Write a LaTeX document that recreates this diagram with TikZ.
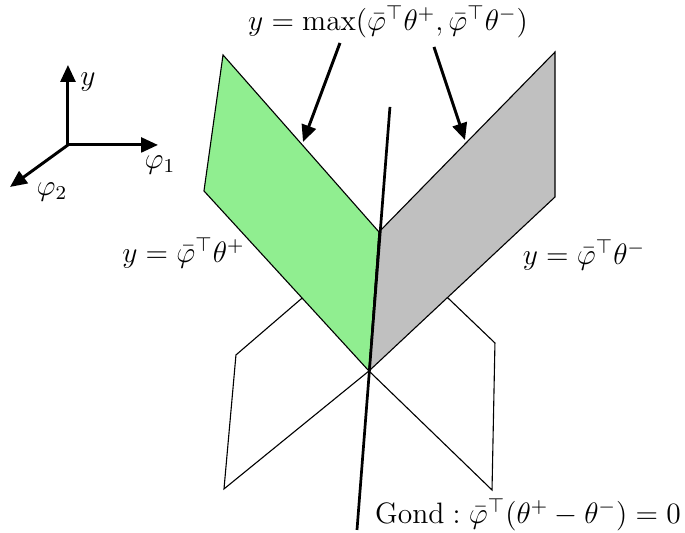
\documentclass[tikz,border=0pt]{standalone}
\usepackage{amsmath}
\usepackage{tikz}
\usetikzlibrary{arrows.meta}

\definecolor{planegreen}{HTML}{90EE90}
\definecolor{planegray}{HTML}{C0C0C0}

\begin{document}
\begin{tikzpicture}[>={Triangle[length=2.4mm, width=2.1mm]}, line width=0.45pt,
    every node/.style={font=\large}]
  \useasboundingbox (0,0) rectangle (9.786,7.614);

  % axes
  \coordinate (O)  at (0.971,5.543);
  \coordinate (Ay) at (0.971,6.686);
  \coordinate (A1) at (2.257,5.543);
  \coordinate (A2) at (0.143,4.943);
  \draw[->, line width=1.2pt] (O) -- (Ay);
  \draw[->, line width=1.2pt] (O) -- (A1);
  \draw[->, line width=1.2pt] (O) -- (A2);
  \node (ylab)    at (1.257,6.443) {$y$};
  \node (phi1lab) at (2.286,5.257) {$\varphi_1$};
  \node (phi2lab) at (0.743,4.871) {$\varphi_2$};

  % corners of the two planes
  \coordinate (I)  at (5.414,4.300);   % kink on the switching line
  \coordinate (C)  at (5.271,2.314);   % crossing point
  \coordinate (P1) at (3.186,6.829);   % theta^+ plane
  \coordinate (P2) at (2.914,4.886);
  \coordinate (M1) at (7.929,6.871);   % theta^- plane
  \coordinate (M2) at (7.929,4.800);
  \coordinate (L2) at (3.371,2.543);   % lower parts
  \coordinate (L3) at (3.200,0.629);
  \coordinate (R2) at (7.071,2.714);
  \coordinate (R3) at (7.029,0.614);

  % lower (inactive) halves
  \draw[fill=white] (I) -- (L2) -- (L3) -- (C) -- cycle;
  \draw[fill=white] (I) -- (R2) -- (R3) -- (C) -- cycle;

  % upper (active) halves
  \draw[fill=planegreen] (P1) -- (I) -- (C) -- (P2) -- cycle;
  \draw[fill=planegray]  (I) -- (M1) -- (M2) -- (C) -- cycle;

  % switching line
  \coordinate (G1) at (5.571,6.086);
  \coordinate (G2) at (5.100,0.043);
  \draw[line width=1.1pt] (G2) -- (G1);

  % labels
  \node (maxlab) at (5.543,7.300)
     {$y=\max(\bar{\varphi}^\top\theta^{+},\bar{\varphi}^\top\theta^{-})$};
  \node (pluslab)  at (2.621,4.000) {$y=\bar{\varphi}^\top\theta^{+}$};
  \node (minuslab) at (8.343,3.971) {$y=\bar{\varphi}^\top\theta^{-}$};
  \node (gondlab)  at (7.543,0.257)
     {$\mathrm{Gond}:\bar{\varphi}^\top(\theta^{+}-\theta^{-})=0$};

  % pointers to the max surface
  \coordinate (S1) at (4.857,7.000);
  \coordinate (T1) at (4.329,5.586);
  \coordinate (S2) at (6.200,6.943);
  \coordinate (T2) at (6.643,5.614);
  \draw[->, line width=1.2pt] (S1) -- (T1);
  \draw[->, line width=1.2pt] (S2) -- (T2);
\end{tikzpicture}
\end{document}
